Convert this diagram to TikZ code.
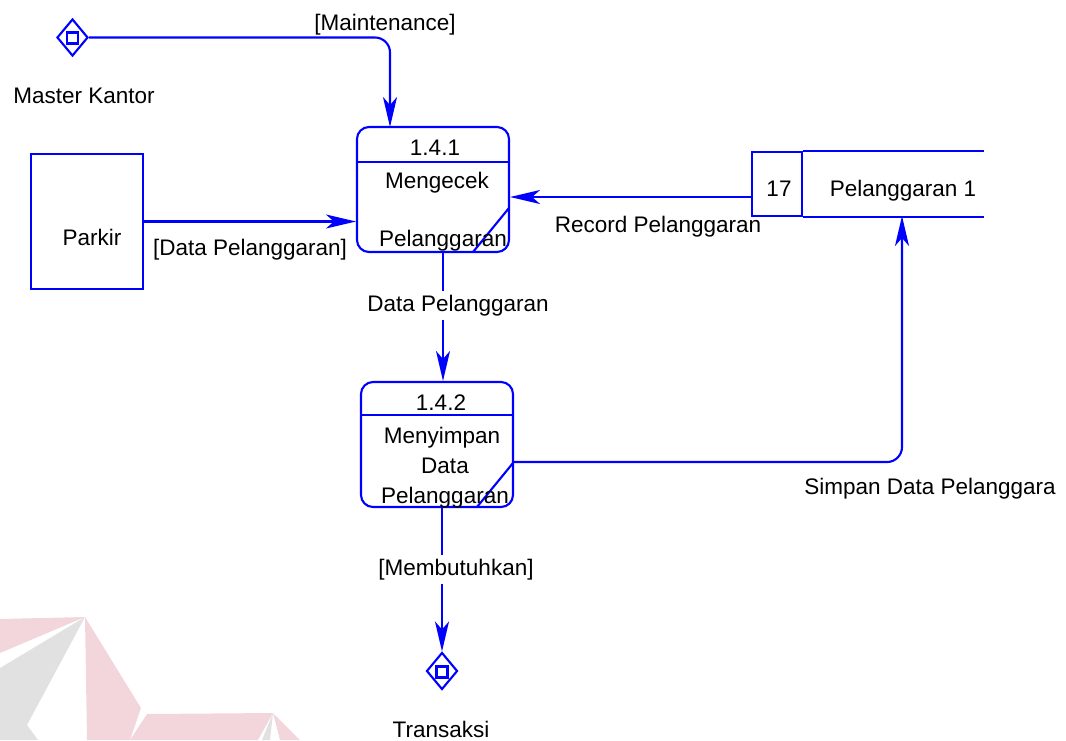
\documentclass[tikz,border=0pt]{standalone}
\usepackage{fontspec}
\setmainfont{Liberation Sans}
\usetikzlibrary{shapes.geometric,arrows.meta}
\definecolor{flowblue}{RGB}{0,0,255}
\definecolor{wmpink}{RGB}{242,214,219}
\definecolor{wmgray}{RGB}{225,225,225}
\begin{document}
\begin{tikzpicture}[x=1pt,y=-1pt,
  every node/.style={font=\fontsize{22.5}{27}\selectfont},
  txt/.style={anchor=base, inner sep=0pt, text=black},
  gaplbl/.style={anchor=base, inner sep=4pt, fill=white, text=black},
  flow/.style={draw=flowblue, line width=2.1pt, -{Stealth[length=30pt,width=14pt,inset=8pt]}},
  boxline/.style={draw=flowblue, line width=2.1pt},
  proc/.style={boxline, rounded corners=12pt, minimum width=152pt, minimum height=125pt, inner sep=0pt},
  entity/.style={boxline, minimum width=112pt, minimum height=135pt, inner sep=0pt},
  gate/.style={boxline, shape=diamond, minimum width=31pt, minimum height=37pt, inner sep=0pt},
  gatesq/.style={boxline, minimum width=11pt, minimum height=11pt, inner sep=0pt},
]
\useasboundingbox (0,0) rectangle (1066,740);

% faint logo in the lower left corner
\fill[wmpink] (0,619) -- (85,617) -- (0,653) -- cycle;
\fill[wmgray] (0,668) -- (85,617) -- (27,725) -- (38,740) -- (0,740) -- cycle;
\fill[wmpink] (85,617) -- (141,708) -- (130,740) -- (87,740) -- cycle;
\fill[wmpink] (147,714) -- (273,713) -- (258,740) -- (130,740) -- cycle;
\fill[wmgray] (273,713) -- (262,740) -- (270,740) -- cycle;
\fill[wmpink] (273,713) -- (280,740) -- (300,740) -- cycle;

% external entities and gates
\node[gate] (mk) at (72.5,37.5) {};
\node[gatesq] (mksq) at (72.5,38) {};
\node[txt] (mklbl) at (84,103) {Master Kantor};

\node[entity] (parkir) at (87,221.5) {};
\node[txt] (parkirlbl) at (92,245) {Parkir};

\node[gate] (tr) at (442,671) {};
\node[gatesq] (trsq) at (442,672) {};
\node[txt] (trlbl) at (441,737) {Transaksi};

% process 1.4.1
\node[proc] (p1) at (433,189.5) {};
\draw[boxline] (357,162) -- (509,162);
\draw[boxline] (509,208) -- (473,252);
\node[txt] (p1id) at (435,155) {1.4.1};
\node[txt] (p1a) at (437,188) {Mengecek};
\node[txt] (p1b) at (443,246) {Pelanggaran};

% process 1.4.2
\node[proc] (p2) at (437,444.5) {};
\draw[boxline] (361,415) -- (513,415);
\draw[boxline] (513,463) -- (477,507);
\node[txt] (p2id) at (441,410) {1.4.2};
\node[txt] (p2a) at (442,443) {Menyimpan};
\node[txt] (p2b) at (445,473) {Data};
\node[txt] (p2c) at (445,503) {Pelanggaran};

% data store 17
\node[boxline, minimum width=50pt, minimum height=64pt, inner sep=0pt] (ds17) at (777,184) {};
\draw[boxline] (ds17.north east) -- ++(181,0);
\draw[boxline] (ds17.south east) -- ++(181,0);
\node[txt] (dsid) at (779,196) {17};
\node[txt] (dsname) at (903,196) {Pelanggaran 1};

% flows
\coordinate (mkin) at (390,127);
\draw[flow, rounded corners=15pt] (mk.east) -| (mkin);
\node[txt] (mtlbl) at (385,30) {[Maintenance]};

\draw[flow] (parkir.east) -- (parkir.east -| p1.west);
\node[txt] (dplbl) at (250,255) {[Data Pelanggaran]};

\coordinate (rin) at (752,197);
\draw[flow] (rin) -- (rin -| p1.east);
\node[txt] (rplbl) at (658,232) {Record Pelanggaran};

\coordinate (p1out) at (443,252);
\draw[flow] (p1out) -- (p1out |- p2.north);
\node[gaplbl] (dp2lbl) at (458,311) {Data Pelanggaran};

\coordinate (p2out) at (513,462);
\coordinate (dsin) at (902,216);
\draw[flow, rounded corners=15pt] (p2out) -| (dsin);
\node[txt] (splbl) at (930,494) {Simpan Data Pelanggara};

\coordinate (p2down) at (442,507);
\draw[flow] (p2down) -- (tr.north);
\node[gaplbl] (mblbl) at (456,575) {[Membutuhkan]};
\end{tikzpicture}
\end{document}
